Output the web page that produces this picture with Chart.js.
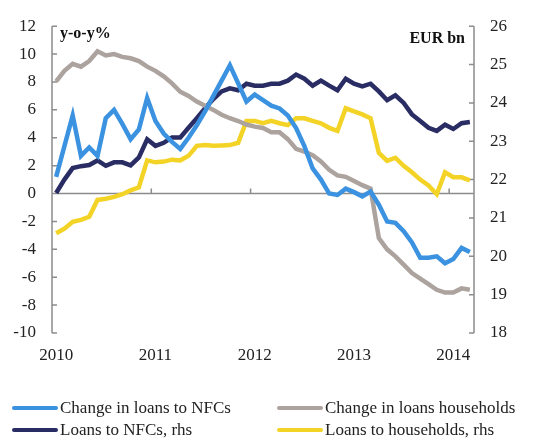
<!DOCTYPE html>
<html>
<head>
<meta charset="utf-8">
<script src="https://cdn.jsdelivr.net/npm/chart.js@4.4.1/dist/chart.umd.min.js"></script>
<style>
  html, body { margin: 0; padding: 0; background: #fff; }
  #wrap { position: relative; width: 538px; height: 448px; }
  #legend { position: absolute; left: 0; top: 398px; width: 538px; font-family: "Liberation Serif", serif; font-size: 17px; color: #222; }
  .item { position: absolute; display: flex; align-items: center; white-space: nowrap; }
  .swatch { width: 46px; height: 4.5px; border-radius: 2px; margin-right: 2px; }
</style>
</head>
<body>
<div id="wrap">
  <canvas id="chart"></canvas>
  <div id="legend"></div>
</div>
<script>
// monthly, Jan 2010 - Mar 2014
const years = [2010, 2011, 2012, 2013, 2014];
const monthsInLastYear = 3;

const nfcChange = [1.2, 3.4, 5.6, 2.7, 3.3, 2.7, 5.4, 6.0, 5.0, 3.9, 4.6, 6.85, 5.2, 4.3, 3.7, 3.2, 4.0, 4.9, 5.9, 7.0,
  8.1, 9.2, 7.9, 6.6, 7.1, 6.7, 6.3, 6.1, 5.6, 4.7, 3.4, 1.8, 1.0, 0.0, -0.1, 0.35, 0.1, -0.2, 0.15, -0.8,
  -2.0, -2.1, -2.7, -3.5, -4.6, -4.6, -4.5, -5.0, -4.7, -3.9, -4.2];
const hhChange = [8.05, 8.8, 9.3, 9.1, 9.5, 10.2, 9.9, 10.0, 9.8, 9.7, 9.5, 9.1, 8.8, 8.4, 7.9, 7.3, 7.0, 6.6, 6.3, 6.0,
  5.65, 5.4, 5.2, 4.95, 4.8, 4.7, 4.4, 4.4, 3.9, 3.2, 3.0, 2.75, 2.3, 1.7, 1.3, 1.2, 0.9, 0.6, 0.35, -3.2,
  -4.0, -4.5, -5.1, -5.7, -6.1, -6.5, -6.9, -7.1, -7.1, -6.8, -6.9];
const nfcLoans = [21.65, 22.0, 22.3, 22.35, 22.38, 22.5, 22.36, 22.45, 22.45, 22.37, 22.58, 23.05, 22.88, 22.96, 23.1, 23.1, 23.35, 23.6, 23.86, 24.1,
  24.3, 24.38, 24.33, 24.5, 24.45, 24.45, 24.5, 24.5, 24.58, 24.74, 24.63, 24.45, 24.58, 24.45, 24.33, 24.63, 24.5, 24.43, 24.5, 24.3,
  24.07, 24.2, 24.0, 23.7, 23.53, 23.35, 23.27, 23.43, 23.32, 23.47, 23.5];
const hhLoans = [20.6, 20.72, 20.9, 20.95, 21.03, 21.47, 21.5, 21.55, 21.62, 21.72, 21.8, 22.5, 22.45, 22.47, 22.52, 22.5, 22.62, 22.88, 22.9, 22.88,
  22.89, 22.9, 22.96, 23.53, 23.53, 23.47, 23.53, 23.47, 23.42, 23.6, 23.6, 23.53, 23.47, 23.35, 23.27, 23.86, 23.78, 23.7, 23.6, 22.7,
  22.49, 22.57, 22.36, 22.19, 22.0, 21.85, 21.62, 22.19, 22.06, 22.06, 21.98];

const labels = [];
years.forEach((y, k) => {
    const n = k === years.length - 1 ? monthsInLastYear : 12;
    for (let m = 1; m <= n; m++) labels.push(y + '-' + String(m).padStart(2, '0'));
});

const AXIS = '#8c8c8c';
const FONT = '"Liberation Serif", "Times New Roman", serif';

// axes lines, inner ticks, zero line and unit labels
const axisDecor = {
    id: 'axisDecor',
    beforeDatasetsDraw(chart) {
        const { ctx, chartArea: a, scales } = chart;
        const y = scales.y, y1 = scales.y1, x = scales.x;
        ctx.save();
        ctx.strokeStyle = AXIS;
        ctx.lineWidth = 1.5;
        ctx.beginPath();
        ctx.moveTo(a.left, a.top); ctx.lineTo(a.left, a.bottom);
        ctx.moveTo(a.right, a.top); ctx.lineTo(a.right, a.bottom);
        y.ticks.forEach(t => {
            const py = y.getPixelForValue(t.value);
            ctx.moveTo(a.left, py); ctx.lineTo(a.left + 5, py);
        });
        y1.ticks.forEach(t => {
            const py = y1.getPixelForValue(t.value);
            ctx.moveTo(a.right, py); ctx.lineTo(a.right - 5, py);
        });
        const zero = y.getPixelForValue(0);
        ctx.moveTo(a.left, zero); ctx.lineTo(a.right, zero);
        const half = (x.getPixelForValue(1) - x.getPixelForValue(0)) / 2;
        labels.forEach((l, i) => {
            if (i > 0 && l.endsWith('-01')) {
                const px = x.getPixelForValue(i) - half;
                ctx.moveTo(px, zero); ctx.lineTo(px, zero - 5);
            }
        });
        ctx.stroke();

        ctx.fillStyle = '#111';
        ctx.font = 'bold 16px ' + FONT;
        ctx.textBaseline = 'middle';
        ctx.textAlign = 'left';
        ctx.fillText('y-o-y%', a.left + 8, 34);
        ctx.textAlign = 'right';
        ctx.fillText('EUR bn', a.right - 9, 39);
        ctx.restore();
    }
};

const series = [
    { label: 'Change in loans to NFCs', data: nfcChange, color: '#3a92e0', axis: 'y' },
    { label: 'Change in loans households', data: hhChange, color: '#aca39f', axis: 'y' },
    { label: 'Loans to NFCs, rhs', data: nfcLoans, color: '#2a2c64', axis: 'y1' },
    { label: 'Loans to households, rhs', data: hhLoans, color: '#f4d327', axis: 'y1' }
];

const chart = new Chart(document.getElementById('chart'), {
    type: 'line',
    data: {
        labels: labels,
        datasets: series.map((s, i) => ({
            label: s.label,
            data: s.data,
            yAxisID: s.axis,
            borderColor: s.color,
            backgroundColor: s.color,
            borderWidth: 4.5,
            pointRadius: 0,
            tension: 0,
            order: i === 3 ? 3 : i
        }))
    },
    options: {
        responsive: true,
        maintainAspectRatio: false,
        animation: false,
        layout: { padding: { top: 22, bottom: 70, left: 0, right: 0 } },
        plugins: { legend: { display: false }, tooltip: { enabled: false } },
        scales: {
            x: {
                type: 'category',
                offset: true,
                grid: { display: false, drawTicks: false },
                border: { display: false },
                afterFit(s) { s.height = 45; },
                ticks: {
                    autoSkip: false,
                    maxRotation: 0,
                    padding: 12,
                    color: '#222',
                    font: { family: FONT, size: 17 },
                    callback(v, i) {
                        const l = labels[i];
                        return l.endsWith('-01') ? l.slice(0, 4) : '';
                    }
                }
            },
            y: {
                position: 'left',
                min: -10, max: 12,
                grid: { display: false, drawTicks: false },
                border: { display: false },
                afterFit(s) { s.width = 52; },
                ticks: { stepSize: 2, padding: 16, color: '#222', font: { family: FONT, size: 17 } }
            },
            y1: {
                position: 'right',
                min: 18, max: 26,
                grid: { display: false, drawTicks: false },
                border: { display: false },
                afterFit(s) { s.width = 64; },
                ticks: { stepSize: 1, padding: 16, color: '#222', font: { family: FONT, size: 17 } }
            }
        }
    },
    plugins: [axisDecor]
});

// legend in two columns, built from the datasets
const legend = document.getElementById('legend');
const spots = [[12, 0], [277, 0], [12, 22], [277, 22]];
chart.data.datasets.forEach((d, i) => {
    const el = document.createElement('div');
    el.className = 'item';
    el.style.left = spots[i][0] + 'px';
    el.style.top = spots[i][1] + 'px';
    el.innerHTML = '<span class="swatch" style="background:' + d.borderColor + '"></span><span>' + d.label + '</span>';
    legend.appendChild(el);
});
</script>
</body>
</html>
